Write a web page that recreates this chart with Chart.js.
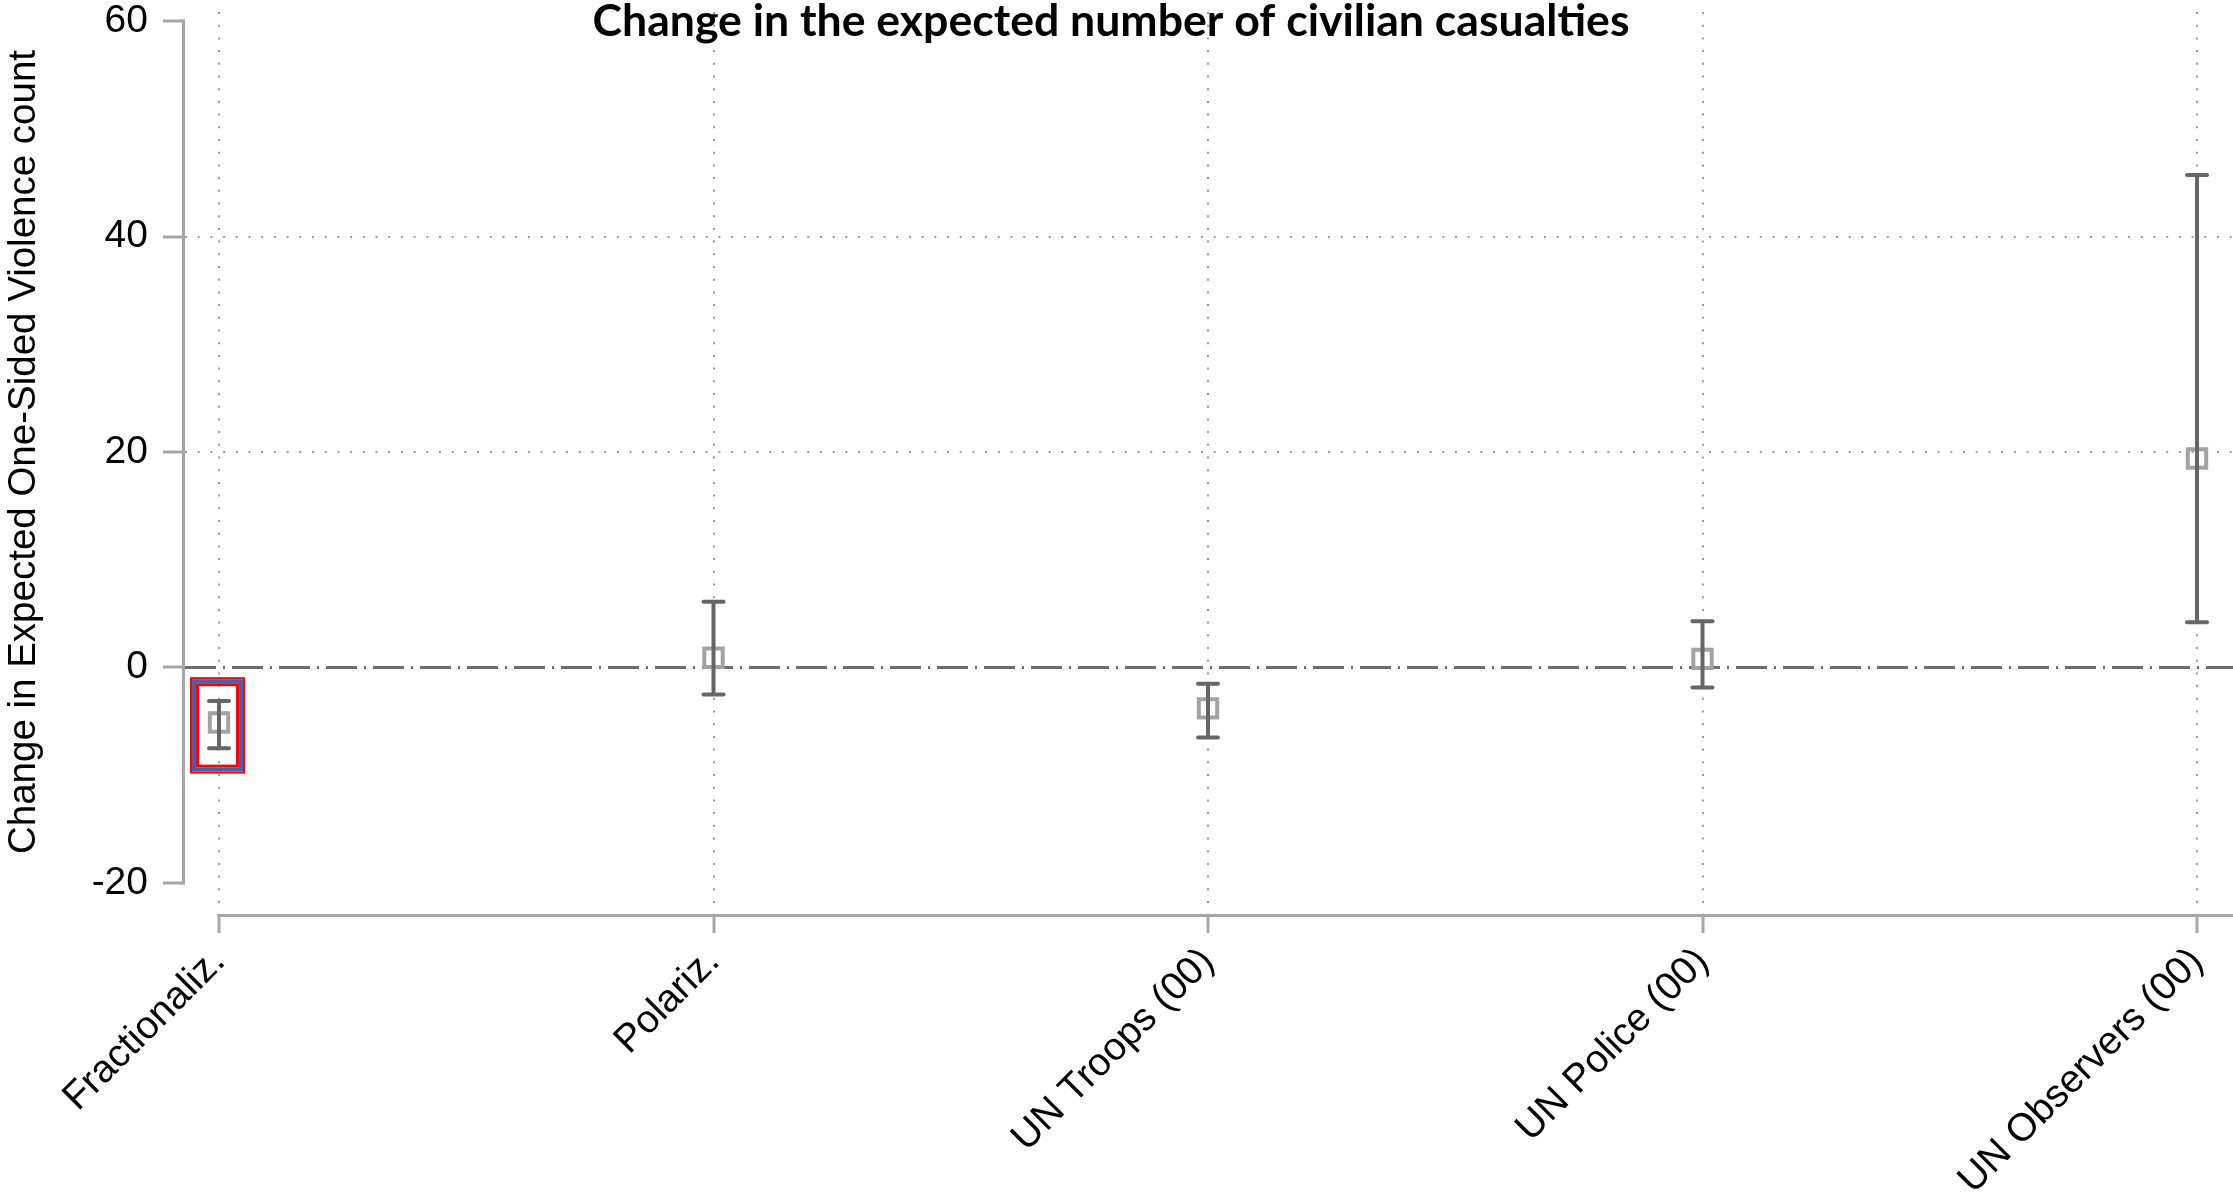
<!DOCTYPE html>
<html>
<head>
<meta charset="utf-8">
<script src="https://cdn.jsdelivr.net/npm/chart.js@4/dist/chart.umd.min.js"></script>
<style>
  html, body { margin: 0; padding: 0; background: #ffffff; overflow: hidden; }
  #wrap { width: 2233px; height: 1199px; position: relative; }
  canvas { display: block; }
</style>
</head>
<body>
<div id="wrap"><canvas id="c" width="2233" height="1199"></canvas></div>
<script>
// Marginal effects on the expected one-sided violence count, with confidence bounds
const categories = ['Fractionaliz.', 'Polariz.', 'UN Troops (00)', 'UN Police (00)', 'UN Observers (00)'];
const estimates = [-5.1, 0.9, -3.8, 0.8, 19.4];
const lowerBounds = [-7.5, -2.5, -6.5, -1.85, 4.2];
const upperBounds = [-3.1, 6.1, -1.5, 4.3, 45.7];
const yTickValues = [-20, 0, 20, 40, 60];
const yGridValues = [20, 40];
const titleText = 'Change in the expected number of civilian casualties';
const yAxisTitle = 'Change in Expected One-Sided Violence count';

// Highlighted estimate and the vertical extent of its frame (data units)
const highlightIndex = 0;
const highlightRange = [-9.85, -0.9];

const FONT = '"Liberation Sans", Arial, sans-serif';
const AXIS_GRAY = '#a6a6a6';
const DOT_GRAY = '#9c9c9c';
const BAR_GRAY = '#666666';
const MARKER_GRAY = '#a3a3a3';

// Axis lines drawn Stata-style: detached from each other
const axisLines = {
  id: 'axisLines',
  beforeDatasetsDraw(chart) {
    const { ctx, chartArea, scales } = chart;
    const x = scales.x, y = scales.y;
    const yTop = y.getPixelForValue(yTickValues[yTickValues.length - 1]);
    const yBottom = y.getPixelForValue(yTickValues[0]);
    ctx.save();
    ctx.strokeStyle = AXIS_GRAY;
    ctx.lineWidth = 3;
    ctx.setLineDash([]);
    ctx.beginPath();
    ctx.moveTo(chartArea.left - 1.5, yTop - 1.5);
    ctx.lineTo(chartArea.left - 1.5, yBottom + 1.5);
    ctx.stroke();
    ctx.beginPath();
    ctx.moveTo(x.getPixelForValue(0) - 1.5, chartArea.bottom + 1.5);
    ctx.lineTo(chartArea.right, chartArea.bottom + 1.5);
    ctx.stroke();

    // zero reference line (dash-dot)
    const y0 = y.getPixelForValue(0);
    ctx.strokeStyle = '#6e6e6e';
    ctx.lineWidth = 3;
    ctx.setLineDash([31, 7, 2, 7]);
    ctx.beginPath();
    ctx.moveTo(chartArea.left, y0);
    ctx.lineTo(chartArea.right, y0);
    ctx.stroke();

    // y-axis title, centred on the labelled range of the axis
    ctx.setLineDash([]);
    ctx.translate(24, (yTop + yBottom) / 2);
    ctx.rotate(-Math.PI / 2);
    ctx.font = `38.5px ${FONT}`;
    ctx.fillStyle = '#000000';
    ctx.textAlign = 'center';
    ctx.textBaseline = 'middle';
    ctx.fillText(yAxisTitle, 0, 0);
    ctx.restore();
  }
};

// Confidence-interval bars with rounded caps, drawn over the markers
const errorBars = {
  id: 'errorBars',
  afterDatasetsDraw(chart) {
    const { ctx, scales } = chart;
    const x = scales.x, y = scales.y;
    ctx.save();
    ctx.strokeStyle = BAR_GRAY;
    ctx.lineWidth = 4;
    ctx.setLineDash([]);
    categories.forEach((_, i) => {
      const px = x.getPixelForValue(i);
      const lo = y.getPixelForValue(lowerBounds[i]);
      const hi = y.getPixelForValue(upperBounds[i]);
      ctx.lineCap = 'butt';
      ctx.beginPath();
      ctx.moveTo(px, lo);
      ctx.lineTo(px, hi);
      ctx.stroke();
      ctx.lineCap = 'round';
      [lo, hi].forEach(py => {
        ctx.beginPath();
        ctx.moveTo(px - 10, py);
        ctx.lineTo(px + 10, py);
        ctx.stroke();
      });
    });

    // red / blue / red frame around the highlighted estimate
    const cx = x.getPixelForValue(highlightIndex) - 1.5;
    const top = y.getPixelForValue(highlightRange[1]);
    const bottom = y.getPixelForValue(highlightRange[0]);
    const half = 27.5;
    const bands = [
      { inset: 1, width: 2, color: '#ff0000' },
      { inset: 4, width: 4, color: '#4a5ea6' },
      { inset: 7.5, width: 3, color: '#ff0000' }
    ];
    bands.forEach(b => {
      ctx.strokeStyle = b.color;
      ctx.lineWidth = b.width;
      ctx.strokeRect(cx - half + b.inset, top + b.inset, 2 * (half - b.inset), bottom - top - 2 * b.inset);
    });
    ctx.restore();
  }
};

// Bold chart heading, set in a condensed bold face
const heading = {
  id: 'heading',
  afterDraw(chart) {
    const { ctx } = chart;
    ctx.save();
    ctx.font = 'bold 43px Lato, "Open Sans", sans-serif';
    const w = ctx.measureText(titleText).width;
    ctx.translate(1111, 36);
    ctx.scale(1037 / w, 1);
    ctx.fillStyle = '#000000';
    ctx.textAlign = 'center';
    ctx.textBaseline = 'alphabetic';
    ctx.fillText(titleText, 0, 0);
    ctx.restore();
  }
};

new Chart(document.getElementById('c'), {
  type: 'scatter',
  data: {
    datasets: [{
      data: estimates.map((v, i) => ({ x: i, y: v })),
      pointStyle: 'rect',
      pointRadius: 13,
      pointHoverRadius: 13,
      pointBorderWidth: 4,
      pointHoverBorderWidth: 4,
      borderColor: MARKER_GRAY,
      backgroundColor: 'rgba(0,0,0,0)',
      showLine: false
    }]
  },
  options: {
    responsive: false,
    animation: false,
    devicePixelRatio: 1,
    events: [],
    layout: { autoPadding: false, padding: { top: 12, right: 0, left: 0, bottom: 0 } },
    plugins: {
      legend: { display: false },
      tooltip: { enabled: false },
      title: { display: false }
    },
    scales: {
      x: {
        type: 'linear',
        position: 'bottom',
        min: -0.0688,
        max: 4.0728,
        afterBuildTicks(scale) {
          scale.ticks = categories.map((_, i) => ({ value: i }));
        },
        afterFit(scale) {
          scale.height = 285;
          scale.paddingLeft = 0;
          scale.paddingRight = 0;
        },
        ticks: {
          autoSkip: false,
          minRotation: 45,
          maxRotation: 45,
          padding: 6,
          color: '#000000',
          font: { family: FONT, size: 39 },
          callback: v => categories[v]
        },
        grid: {
          color: DOT_GRAY,
          lineWidth: 2,
          tickLength: 19,
          tickColor: AXIS_GRAY,
          tickWidth: 3,
          tickBorderDash: []
        },
        border: { display: false, dash: [2, 10.7] }
      },
      y: {
        type: 'linear',
        position: 'left',
        min: -22.88,
        max: 60.84,
        afterBuildTicks(scale) {
          scale.ticks = yTickValues.map(v => ({ value: v }));
        },
        afterFit(scale) {
          scale.width = 185;
          scale.paddingTop = 0;
          scale.paddingBottom = 0;
        },
        ticks: {
          padding: 15,
          color: '#000000',
          font: { family: FONT, size: 39 }
        },
        grid: {
          color: ctx => (ctx.tick && yGridValues.includes(ctx.tick.value)) ? DOT_GRAY : 'rgba(0,0,0,0)',
          lineWidth: 2,
          tickLength: 22,
          tickColor: AXIS_GRAY,
          tickWidth: 3,
          tickBorderDash: []
        },
        border: { display: false, dash: [2, 10.7] },
        title: { display: false }
      }
    }
  },
  plugins: [axisLines, errorBars, heading]
});
</script>
</body>
</html>
